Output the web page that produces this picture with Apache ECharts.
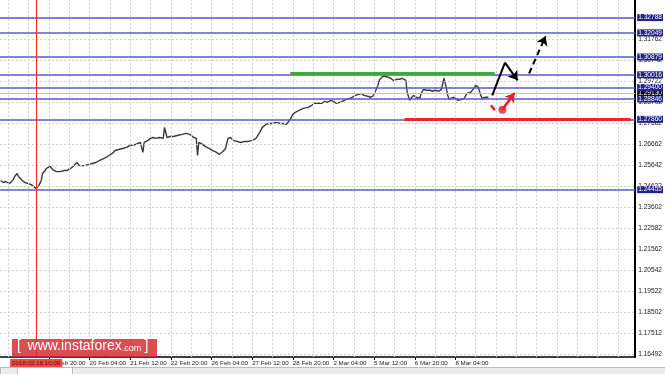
<!DOCTYPE html>
<html><head><meta charset="utf-8">
<script src="https://cdn.jsdelivr.net/npm/echarts@6/dist/echarts.min.js"></script>
<style>html,body{margin:0;padding:0;background:#fff}#c{width:665px;height:374px}</style>
</head><body><div id="c"></div><script>
// H1 bar index (0 = "16 Feb 20:00") and closing prices
const barIdx = [
 -38,-36,-34,-31,-28,-27,-25,-24,-21,-19,
 -16,-14,-12,-10,-8,-6,-5,-3,-2,1,
 3,6,9,12,14,17,19,22,24,28,
 31,34,37,40,43,46,50,52,55,58,
 61,64,68,70,72,74,75,78,80,82,
 84,87,90,91,93,95,98,101,105,108,
 111,114,116,117,118,120,123,126,129,132,
 134,137,139,141,143,145,148,151,154,157,
 160,163,166,168,171,173,176,179,182,185,
 187,190,192,194,197,200,204,207,209,212,
 215,217,219,222,224,226,229,231,234,237,
 239,241,244,246,248,251,253,255,257,259,
 260,262,264,267,269,271,274,276,278,281,
 282,284,285,287,289,292,293,295,297,300,
 302,304,307,309,311,312,314,315,318,320,
 322,325,327,329,332,334,336,338,340,341,
 344,346];
const closePrice = [
 1.2490,1.2480,1.2485,1.2475,1.2494,1.2509,1.2524,1.2509,1.2490,1.2480,
 1.2475,1.2470,1.2460,1.2451,1.2465,1.2490,1.2524,1.2538,1.2548,1.2558,
 1.2543,1.2533,1.2533,1.2538,1.2538,1.2548,1.2558,1.2577,1.2562,1.2562,
 1.2567,1.2572,1.2577,1.2587,1.2596,1.2606,1.2621,1.2635,1.2640,1.2645,
 1.2650,1.2660,1.2664,1.2669,1.2674,1.2626,1.2674,1.2684,1.2694,1.2698,
 1.2694,1.2698,1.2694,1.2747,1.2698,1.2703,1.2703,1.2708,1.2713,1.2718,
 1.2713,1.2698,1.2694,1.2611,1.2674,1.2669,1.2655,1.2645,1.2635,1.2626,
 1.2616,1.2630,1.2645,1.2694,1.2698,1.2684,1.2679,1.2674,1.2679,1.2679,
 1.2684,1.2694,1.2723,1.2747,1.2762,1.2766,1.2766,1.2771,1.2766,1.2766,
 1.2762,1.2786,1.2810,1.2820,1.2830,1.2839,1.2844,1.2854,1.2864,1.2864,
 1.2864,1.2873,1.2868,1.2878,1.2873,1.2864,1.2868,1.2873,1.2883,1.2888,
 1.2893,1.2902,1.2907,1.2912,1.2902,1.2898,1.2893,1.2898,1.2922,1.2951,
 1.2975,1.2990,1.2995,1.2990,1.2985,1.2975,1.2980,1.2980,1.2985,1.2975,
 1.2917,1.2878,1.2888,1.2902,1.2893,1.2888,1.2912,1.2931,1.2927,1.2927,
 1.2922,1.2927,1.2922,1.2931,1.2985,1.2961,1.2902,1.2883,1.2893,1.2888,
 1.2878,1.2883,1.2888,1.2912,1.2917,1.2931,1.2951,1.2941,1.2902,1.2888,
 1.2893,1.2893];

const xLabelIdx = [0,32,64,96,128,160,192,224,256,288,320];
const xLabelText = ['16 Feb 20:00','20 Feb 04:00','21 Feb 12:00','22 Feb 20:00','26 Feb 04:00',
  '27 Feb 12:00','28 Feb 20:00','2 Mar 04:00','5 Mar 12:00','6 Mar 20:00','8 Mar 04:00'];
const xGridIdx = [-32,-16,0,16,32,48,64,80,96,112,128,144,160,176,192,208,224,240,256,272,288,304,320,336,352,368,384,400,416,432,448];
const yTickVals = [1.16492,1.17512,1.18502,1.19522,1.20542,1.21562,1.22582,1.23602,1.24622,
  1.25642,1.26662,1.27682,1.28702,1.29722,1.30742,1.31762,1.32782];
const levelVals = [1.32788,1.32049,1.30879,1.30016,1.29400,1.28846,1.27860,1.24455];
const bidVal = 1.29130;
const resistanceSeg = [[190,1.3007],[351,1.3007]];
const supportSeg = [[280,1.2785],[458,1.2785]];
const markerIdx = -10;
const markerLabel = '2018.02.16 10:00';
const bullPath = [[349,1.2902],[359,1.3061],[369,1.2975]];
const bullTarget = [[378,1.3008],[391,1.3189]];
const redDash = [[348,1.2854],[351,1.2830]];
const redDot = [[357,1.2833]];
const redArrow = [[357,1.2834],[366.5,1.2914]];

const FONT = '"Liberation Sans", Arial, sans-serif';
const chart = echarts.init(document.getElementById('c'), null, {renderer:'canvas'});
const noLabel = {show:false};
const seg = (a,b,extraB) => [{coord:a, symbol:'none'}, Object.assign({coord:b, symbol:'none'}, extraB||{})];
const levelLabel = bg => ({show:true, position:'end', distance:2, formatter:p=>Number(p.value).toFixed(5), color:'#fff',
  backgroundColor:bg, fontSize:6.6, lineHeight:7, padding:[0,1,0,1], fontFamily:FONT});

chart.setOption({
  animation:false,
  backgroundColor:'#fff',
  grid:{left:0, right:29, top:0, bottom:17, containLabel:false},
  xAxis:{
    type:'value', min:-38.5, max:461.5,
    axisLine:{show:true, onZero:false, lineStyle:{color:'#000', width:1.5}},
    axisTick:{show:true, customValues:xLabelIdx, length:3, lineStyle:{color:'#000'}},
    axisLabel:{customValues:xLabelIdx, formatter:v=>xLabelText[xLabelIdx.indexOf(v)],
      align:'left', fontSize:6.2, color:'#222', margin:3, fontFamily:FONT},
    splitLine:{show:false}
  },
  yAxis:{
    type:'value', position:'right', min:1.1635, max:1.3364,
    axisLine:{show:true, onZero:false, lineStyle:{color:'#000', width:2}},
    axisTick:{show:false},
    axisLabel:{customValues:yTickVals, formatter:v=>v.toFixed(5), fontSize:6.6, color:'#222', margin:3, fontFamily:FONT},
    splitLine:{show:false}
  },
  graphic:[
    {type:'rect', left:0, top:367, shape:{width:665, height:7}, style:{fill:'#ececec', stroke:'#bdbdbd', lineWidth:1}, z:50},
    {type:'rect', left:17, top:367, shape:{width:55, height:7}, style:{fill:'#fff', stroke:'#bdbdbd', lineWidth:1}, z:51},
    {type:'rect', left:12, top:339, shape:{width:145, height:18}, style:{fill:'rgba(214,38,46,0.82)'}, z:100},
    {type:'text', left:17, top:339, z:101, style:{
      text:'{b|[}  {w|www.instaforex}{c|.com} {b|]}', fill:'#fff',
      rich:{b:{fontSize:14, fill:'#fff', fontFamily:FONT}, w:{fontSize:14, fill:'#fff', fontFamily:FONT},
            c:{fontSize:9, fill:'#fff', fontFamily:FONT, verticalAlign:'bottom'}}}}
  ],
  series:[
    { // dashed grid
      type:'line', data:[], silent:true,
      markLine:{silent:true, symbol:'none', animation:false, precision:5, label:noLabel,
        lineStyle:{color:'#d2d2d2', type:[2,2], width:1},
        data:[...xGridIdx.map(v=>({xAxis:v})), ...yTickVals.map(v=>({yAxis:v}))]}
    },
    { // bid line
      type:'line', data:[], silent:true,
      markLine:{silent:true, symbol:'none', animation:false, precision:5,
        lineStyle:{color:'#c4c4c4', width:1, type:'solid'}, label:levelLabel('#000'),
        data:[{yAxis:bidVal}]}
    },
    { // levels
      type:'line', data:[], silent:true,
      markLine:{silent:true, symbol:'none', animation:false, precision:5,
        lineStyle:{color:'#5a5ad2', width:1.5, type:'solid', opacity:1}, label:levelLabel('#23238c'),
        data:levelVals.map(v=>({yAxis:v}))}
    },
    { // vertical marker
      type:'line', data:[], silent:true,
      markLine:{silent:true, symbol:'none', animation:false, precision:5,
        lineStyle:{color:'#ff2020', width:1, type:'solid'},
        label:{show:true, position:'start', distance:2, formatter:markerLabel, color:'#7a0000',
          backgroundColor:'#e84a4a', fontSize:6.2, lineHeight:8, padding:[0,2,0,2], fontFamily:FONT},
        data:[{xAxis:markerIdx}]}
    },
    { // price
      type:'line', data:barIdx.map((x,i)=>[x, closePrice[i]]), symbol:'none', silent:true,
      lineStyle:{color:'#3a3a3a', width:1.4}, z:3
    },
    { // green resistance
      type:'line', data:[], silent:true,
      markLine:{silent:true, symbol:'none', animation:false, precision:5, label:noLabel,
        lineStyle:{color:'#3fa83a', width:3, type:'solid'},
        data:[seg(resistanceSeg[0], resistanceSeg[1])]}
    },
    { // red support
      type:'line', data:[], silent:true,
      markLine:{silent:true, symbol:'none', animation:false, precision:5, label:noLabel,
        lineStyle:{color:'#ee2530', width:3, type:'solid'},
        data:[seg(supportSeg[0], supportSeg[1])]}
    },
    { // black solid forecast
      type:'line', data:[], silent:true, z:5,
      markLine:{silent:true, animation:false, precision:5, label:noLabel, symbolSize:9,
        lineStyle:{color:'#000', width:2, type:'solid'},
        data:[seg(bullPath[0], bullPath[1]), seg(bullPath[1], bullPath[2], {symbol:'arrow'})]}
    },
    { // black dashed forecast
      type:'line', data:[], silent:true, z:5,
      markLine:{silent:true, animation:false, precision:5, label:noLabel, symbolSize:9,
        lineStyle:{color:'#000', width:2, type:[6,4]},
        data:[seg(bullTarget[0], bullTarget[1], {symbol:'arrow'})]}
    },
    { // red forecast
      type:'line', data:[], silent:true, z:5,
      markLine:{silent:true, animation:false, precision:5, label:noLabel, symbolSize:9,
        lineStyle:{color:'#ee1c2a', width:2.5, type:'solid'},
        data:[seg(redDash[0], redDash[1]), seg(redArrow[0], redArrow[1], {symbol:'arrow'})]}
    },
    {
      type:'scatter', data:redDot, symbolSize:8, silent:true, z:6,
      itemStyle:{color:'#ee1c2a'}
    }
  ]
});
</script></body></html>
